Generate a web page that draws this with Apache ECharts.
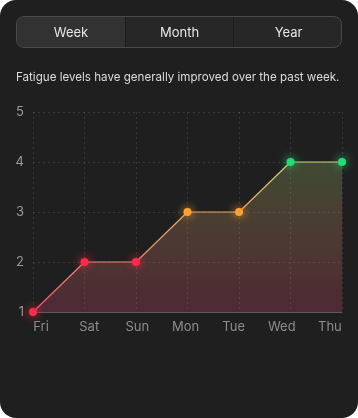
<!DOCTYPE html>
<html>
<head>
<meta charset="utf-8">
<script src="https://cdn.jsdelivr.net/npm/echarts@6/dist/echarts.min.js"></script>
<style>
  html, body { margin:0; padding:0; background:#ffffff; }
  #card { position:relative; width:358px; height:418px; background:#1f1f1f; border-radius:16px; overflow:hidden; font-family:Inter, "Noto Sans", sans-serif; }
  #chart { position:absolute; left:0; top:0; width:358px; height:418px; }
  #tabs { position:absolute; left:16px; top:16px; width:324px; height:30px; border:1px solid #4a4a4a; border-radius:8px; display:flex; overflow:hidden; background:#272727; z-index:2; }
  #tabs div { flex:none; display:flex; align-items:center; justify-content:center; color:#e6e6e6; font-size:13px; }
  #tabs .active { background:#323232; }
  #tabs .sep { border-left:1px solid #1b1b1b; }
</style>
</head>
<body>
<div id="card">
  <div id="chart"></div>
  <div id="tabs"></div>
</div>
<script>
const tabs = ['Week', 'Month', 'Year'];
const title = 'Fatigue levels have generally improved over the past week.';
const days = ['Fri', 'Sat', 'Sun', 'Mon', 'Tue', 'Wed', 'Thu'];
const fatigue = [1, 2, 2, 3, 3, 4, 4];
const yTicks = [1, 2, 3, 4, 5];

const tabWidths = [108, 107, 109];
const tabsEl = document.getElementById('tabs');
tabs.forEach((t, i) => {
  const d = document.createElement('div');
  d.textContent = t;
  d.style.width = tabWidths[i] + 'px';
  if (i === 0) d.className = 'active';
  else d.className = 'sep';
  tabsEl.appendChild(d);
});

function dotColor(v) {
  if (v >= 4) return '#25dc78';
  if (v >= 3) return '#ffa030';
  return '#ff2a4a';
}

const chart = echarts.init(document.getElementById('chart'), null, { renderer: 'canvas' });
const grid = 'rgba(255,255,255,0.11)';
chart.setOption({
  animation: false,
  title: {
    text: title, left: 16, top: 72, padding: 0,
    textStyle: { color: '#dcdcdc', fontSize: 11.6, fontWeight: 'normal', fontFamily: 'Inter' }
  },
  grid: [
    { left: 33, right: 16, top: 112, bottom: 106 },
    { left: 17, right: 4, top: 112, bottom: 106 }
  ],
  xAxis: [
    {
      type: 'category', data: days, boundaryGap: false, gridIndex: 0,
      axisLine: { lineStyle: { color: '#5c5c5c', width: 1 } },
      axisTick: { show: false },
      axisLabel: { show: false },
      splitLine: { show: true, lineStyle: { color: grid, type: [2, 3] } }
    },
    {
      type: 'category', data: days, boundaryGap: true, gridIndex: 1,
      axisLine: { show: false }, axisTick: { show: false }, splitLine: { show: false },
      axisLabel: { color: '#8c8c8c', fontSize: 13, margin: 9, fontFamily: 'Inter' }
    }
  ],
  yAxis: [
    {
      type: 'value', min: yTicks[0], max: yTicks[yTicks.length - 1], interval: 1, gridIndex: 0,
      axisLine: { show: false }, axisTick: { show: false },
      axisLabel: { color: '#9a9a9a', fontSize: 13, margin: 9, fontFamily: 'Inter' },
      splitLine: { show: true, lineStyle: { color: grid, type: [2, 3] } }
    },
    { type: 'value', gridIndex: 1, show: false, min: 0, max: 1 }
  ],
  series: [{
    type: 'line',
    xAxisIndex: 0, yAxisIndex: 0,
    data: fatigue.map(v => ({ value: v, itemStyle: { color: dotColor(v), shadowBlur: 10, shadowColor: dotColor(v) } })),
    symbol: 'circle', symbolSize: 8,
    lineStyle: {
      width: 1.2,
      color: new echarts.graphic.LinearGradient(0, 0, 0, 1, [
        { offset: 0, color: '#cfd486' },
        { offset: 0.33, color: '#eaa866' },
        { offset: 0.67, color: '#ec8a76' },
        { offset: 1, color: '#ff4d66' }
      ])
    },
    areaStyle: {
      color: new echarts.graphic.LinearGradient(0, 0, 0, 1, [
        { offset: 0, color: 'rgba(160,200,110,0.36)' },
        { offset: 0.4, color: 'rgba(205,150,105,0.36)' },
        { offset: 1, color: 'rgba(215,70,110,0.38)' }
      ])
    },
    z: 3
  }]
});
</script>
</body>
</html>
